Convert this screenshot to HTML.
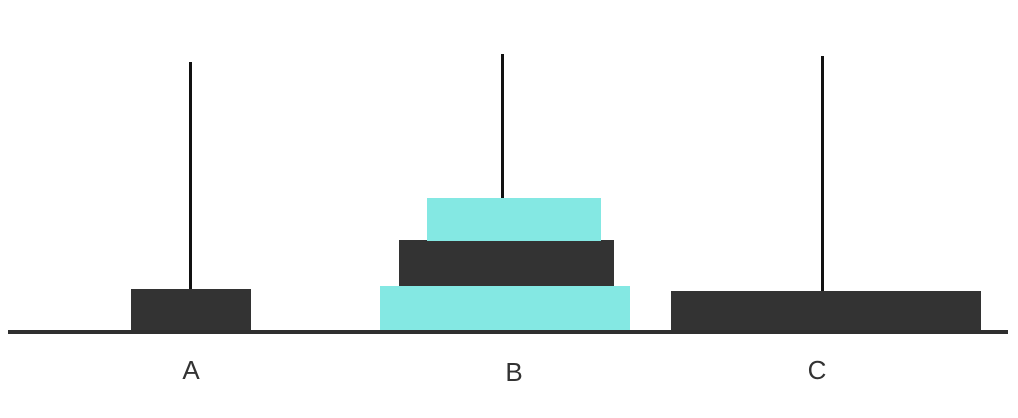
<!DOCTYPE html>
<html><head><meta charset="utf-8"><style>
html,body{margin:0;padding:0;background:#fff;}
svg{display:block;}
text{font-family:"Liberation Sans","DejaVu Sans",sans-serif;font-size:26px;fill:#333;}
</style></head><body>
<svg width="1018" height="418" viewBox="0 0 1018 418">
  <rect x="8" y="330" width="1000" height="4" fill="#2f2f2f"/>
  <rect x="189" y="62" width="3" height="228" fill="#111"/>
  <rect x="501" y="54" width="3" height="146" fill="#111"/>
  <rect x="821" y="56" width="3" height="236" fill="#111"/>
  <rect x="131" y="289" width="120" height="41" fill="#333"/>
  <rect x="380" y="286" width="250" height="44" fill="#84e8e3"/>
  <rect x="399" y="240" width="215" height="46" fill="#333"/>
  <rect x="427" y="198" width="174" height="43" fill="#84e8e3"/>
  <rect x="671" y="291" width="310" height="39" fill="#333"/>
  <text x="191" y="379" text-anchor="middle">A</text>
  <text x="514" y="381" text-anchor="middle">B</text>
  <text x="817" y="379" text-anchor="middle">C</text>
</svg>
</body></html>
